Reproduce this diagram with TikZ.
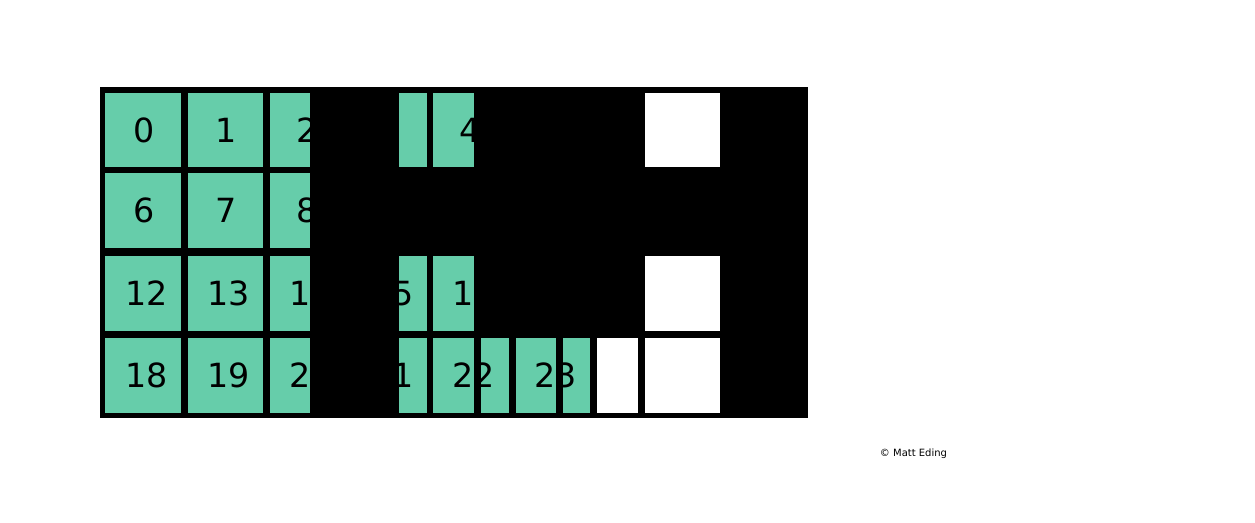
\documentclass[tikz,border=0pt]{standalone}
\usepackage{fontspec}
\newfontfamily\dejavu{DejaVu Sans}
\definecolor{aqua}{RGB}{102,205,170}
\tikzset{
  cell/.style={fill=aqua,draw=none},
  blank/.style={fill=white,draw=none},
  lbl/.style={font=\dejavu\fontsize{33.3}{33.3}\selectfont,inner sep=0pt,anchor=base,text=black},
  credit/.style={font=\dejavu\fontsize{10}{10}\selectfont,inner sep=0pt,text=black}
}
\newcommand\mylbl[4]{%
  \begin{scope}\clip #2;\fill[aqua] #2;\node[lbl] (#1) at #3 {#4};\end{scope}}
\begin{document}
\begin{tikzpicture}[x=1pt,y=-1pt]
\useasboundingbox (0,0) rectangle (1255,522);
\fill[black] (100,87) rectangle (808,418);
% row 0
\mylbl{l0}{(105,93) rectangle (181,167)}{(144,142.1)}{0}
\mylbl{l1}{(188,93) rectangle (263,167)}{(226,142.1)}{1}
\mylbl{l2}{(270,93) rectangle (310,167)}{(307.5,142.1)}{2}
\fill[aqua] (399,93) rectangle (427,167);
\mylbl{l4}{(433,93) rectangle (474,167)}{(470.5,142.1)}{4}
\fill[white] (645,93) rectangle (720,167);
% row 1
\mylbl{l6}{(105,173) rectangle (181,248)}{(144,222.6)}{6}
\mylbl{l7}{(188,173) rectangle (263,248)}{(226,222.6)}{7}
\mylbl{l8}{(270,173) rectangle (310,248)}{(307.5,222.6)}{8}
% row 2
\mylbl{l12}{(105,256) rectangle (181,331)}{(147,305.6)}{12}
\mylbl{l13}{(188,256) rectangle (263,331)}{(228.9,305.6)}{13}
\mylbl{l14}{(270,256) rectangle (310,331)}{(310.5,305.6)}{14}
\mylbl{l15}{(399,256) rectangle (427,331)}{(392.3,305.6)}{15}
\mylbl{l16}{(433,256) rectangle (474,331)}{(474,305.6)}{16}
\fill[white] (645,256) rectangle (720,331);
% row 3
\mylbl{l18}{(105,338) rectangle (181,413)}{(147,387.6)}{18}
\mylbl{l19}{(188,338) rectangle (263,413)}{(228.9,387.6)}{19}
\mylbl{l20}{(270,338) rectangle (310,413)}{(310.5,387.6)}{20}
\mylbl{l21}{(399,338) rectangle (427,413)}{(392.3,387.6)}{21}
\mylbl{l22a}{(433,338) rectangle (474,413)}{(474,387.6)}{22}
\mylbl{l22b}{(481,338) rectangle (509,413)}{(474,387.6)}{22}
\mylbl{l23a}{(515.5,338) rectangle (556,413)}{(555.8,387.6)}{23}
\mylbl{l23b}{(563,338) rectangle (590,413)}{(555.8,387.6)}{23}
\fill[white] (596.5,338) rectangle (638,413);
\fill[white] (645,338) rectangle (720,413);
\node[credit] (cr) at (913.5,453.5) {© Matt Eding};
\end{tikzpicture}
\end{document}
